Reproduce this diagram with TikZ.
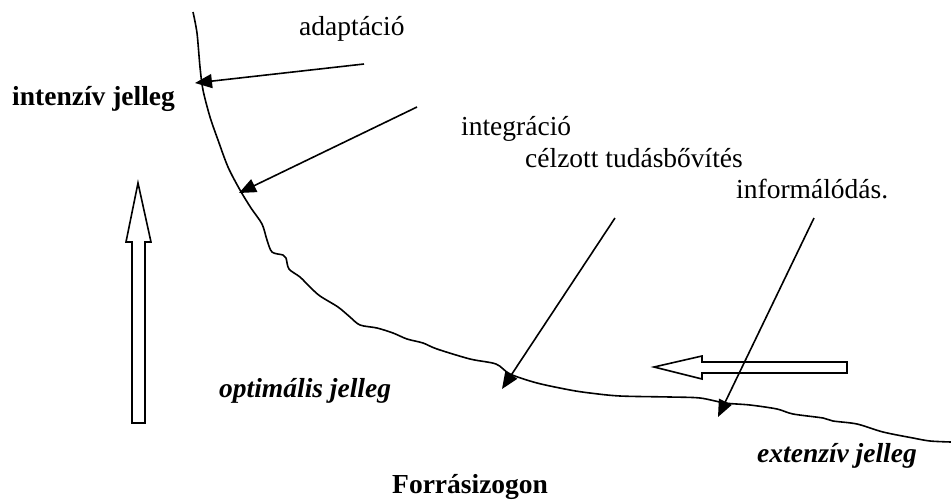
\documentclass[tikz,border=0pt]{standalone}
\usepackage{fontspec}
\setmainfont{Liberation Serif}
\usetikzlibrary{arrows.meta}
\begin{document}
\begin{tikzpicture}[x=1pt,y=-1pt,
  lbl/.style={anchor=base west,inner sep=0pt,font=\fontsize{27.5}{33}\selectfont},
  pointer/.style={line width=1.6pt,-{Triangle[length=17pt,width=14pt]}},
  curveline/.style={line width=1.6pt,line join=round},
  hollow/.style={line width=1.6pt,line join=miter}]
\useasboundingbox (0,0) rectangle (951,499);
% labels
\node[lbl] (adapt) at (299,35) {adaptáció};
\node[lbl,font=\fontsize{27.5}{33}\selectfont\bfseries] (intenz) at (12,105) {intenzív jelleg};
\node[lbl] (integ) at (461,135) {integráció};
\node[lbl] (celz) at (525,167) {célzott tudásbővítés};
\node[lbl] (inform) at (736,198) {informálódás.};
\node[lbl,font=\fontsize{27.5}{33}\selectfont\bfseries\itshape] (optim) at (219,397) {optimális jelleg};
\node[lbl,font=\fontsize{27.5}{33}\selectfont\bfseries\itshape] (extenz) at (757,462) {extenzív jelleg};
\node[lbl,font=\fontsize{27.5}{33}\selectfont\bfseries] (forras) at (392,493) {Forrásizogon};
% the curve
\draw[curveline] plot[smooth,tension=0.5] coordinates {
 (193,12) (197,33) (200,67) (203,90) (210,117) (218,140) (228,167) (240,190)
 (251,208) (262,224) (267,240) (272,252) (283,255) (286,258) (289,269)
 (300,277) (310,287) (320,296) (338,307) (350,317) (360,325) (377,328)
 (393,333) (407,339) (423,343) (437,349) (470,359) (496,364) (510,374)
 (537,383) (570,390) (590,393) (620,396) (670,397) (700,398) (725,403)
 (750,405) (777,409) (793,414) (823,418) (833,421) (857,424) (883,432)
 (913,438) (930,441) (951,442)};
% pointer ends
\coordinate (a1) at (364,64);   \coordinate (t1) at (195,83);
\coordinate (a2) at (417,107);  \coordinate (t2) at (239,193);
\coordinate (a3) at (615,218);  \coordinate (t3) at (502,389);
\coordinate (a4) at (814,218);  \coordinate (t4) at (718,417);
\draw[pointer] (a1) -- (t1);
\draw[pointer] (a2) -- (t2);
\draw[pointer] (a3) -- (t3);
\draw[pointer] (a4) -- (t4);
% hollow arrows
\draw[hollow] (132,423) -- (132,242) -- (126,242) -- (138,183) -- (151,242)
  -- (145,242) -- (145,423) -- cycle;
\draw[hollow] (847,362) -- (702,362) -- (702,356) -- (654,367) -- (702,379)
  -- (702,373) -- (847,373) -- cycle;
\end{tikzpicture}
\end{document}
